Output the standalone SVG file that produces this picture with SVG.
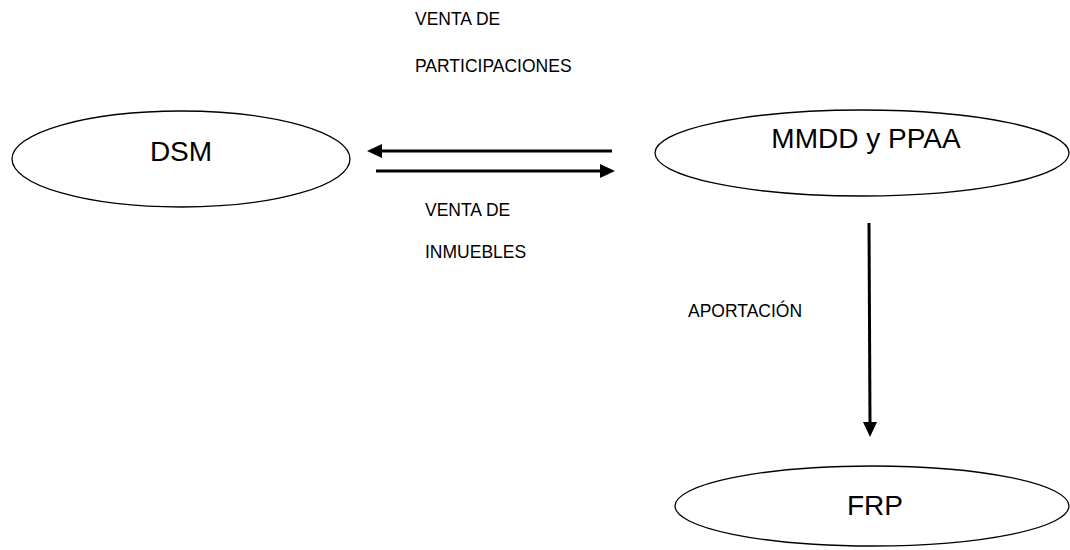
<svg xmlns="http://www.w3.org/2000/svg" width="1070" height="550" viewBox="0 0 1070 550">
<defs>
<style>
.node{fill:#fff;stroke:#000;stroke-width:1.3}
.big{font-family:"Liberation Sans",Arial,sans-serif;font-size:28px;fill:#000;text-anchor:middle}
.lbl{font-family:"Liberation Sans",Arial,sans-serif;font-size:17.5px;fill:#000}
.con{stroke:#000;stroke-width:3;fill:none}
.head{fill:#000}
</style>
</defs>
<rect width="1070" height="550" fill="#fff"/>
<g id="dsm">
<ellipse class="node" cx="181" cy="159" rx="169" ry="48"/>
<text class="big" x="181" y="161">DSM</text>
</g>
<g id="mmdd">
<ellipse class="node" cx="862" cy="153" rx="207" ry="43"/>
<text class="big" x="866" y="148">MMDD y PPAA</text>
</g>
<g id="frp">
<ellipse class="node" cx="872" cy="506" rx="197" ry="40"/>
<text class="big" x="875" y="515">FRP</text>
</g>
<g id="connectors">
<line class="con" x1="612" y1="151" x2="382" y2="151"/>
<path class="head" d="M367,151 L382,144 L382,158 z"/>
<line class="con" x1="376" y1="171" x2="600" y2="171"/>
<path class="head" d="M615,171 L600,164 L600,178 z"/>
<line class="con" x1="869" y1="223" x2="870" y2="423"/>
<path class="head" d="M870,437 L863,422 L877,422 z"/>
</g>
<g id="labels">
<text class="lbl" x="415" y="25">VENTA DE</text>
<text class="lbl" x="415" y="72">PARTICIPACIONES</text>
<text class="lbl" x="425" y="216">VENTA DE</text>
<text class="lbl" x="425" y="258">INMUEBLES</text>
<text class="lbl" x="688" y="317">APORTACIÓN</text>
</g>
</svg>
